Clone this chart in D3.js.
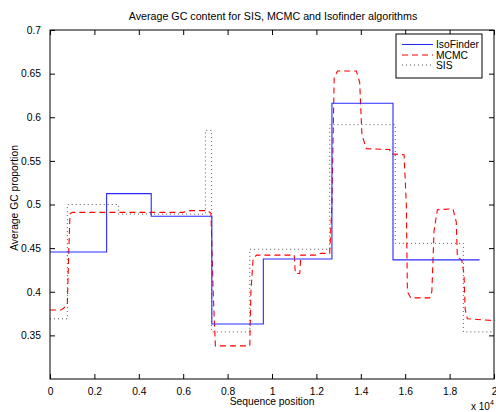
<!DOCTYPE html>
<html><head><meta charset="utf-8">
<script src="https://cdn.jsdelivr.net/npm/d3@7"></script>
<style>body{margin:0;background:#fff}svg{display:block;font-family:"Liberation Sans",Arial,sans-serif}</style>
</head><body><svg id="c" width="496" height="412"></svg>
<script>
// IsoFinder: step edges and segment values
const isoX = [0, 2550, 4560, 7290, 9610, 12700, 15450, 19350];
const isoY = [0.4455, 0.5125, 0.4865, 0.363, 0.4375, 0.616, 0.4365];
// SIS: step edges and segment values
const sisX = [0, 780, 3080, 7000, 7280, 9000, 12600, 15550, 18620, 20000];
const sisY = [0.369, 0.500, 0.489, 0.585, 0.354, 0.4487, 0.5915, 0.4555, 0.354];
// MCMC: sampled path
const mcmcX = [0, 500, 650, 780, 850, 900, 1000, 6000, 6250, 7100, 7250, 7350, 7450, 9000, 9050, 9150, 9300, 11000, 11050, 11250, 11300, 12000, 12200, 12600, 12700, 12800, 12950, 13800, 13950, 14050, 14250, 15300, 15350, 15950, 16050, 16100, 16250, 17100, 17200, 17300, 17450, 18150, 18300, 18350, 18550, 18650, 18700, 18800, 20000];
const mcmcY = [0.379, 0.379, 0.382, 0.385, 0.45, 0.489, 0.491, 0.491, 0.493, 0.493, 0.490, 0.40, 0.338, 0.338, 0.40, 0.438, 0.442, 0.442, 0.421, 0.421, 0.442, 0.442, 0.444, 0.444, 0.50, 0.645, 0.653, 0.653, 0.64, 0.58, 0.564, 0.563, 0.558, 0.557, 0.50, 0.40, 0.393, 0.393, 0.40, 0.47, 0.494, 0.495, 0.48, 0.44, 0.436, 0.42, 0.38, 0.369, 0.367];
const xTicks = [0, 2000, 4000, 6000, 8000, 10000, 12000, 14000, 16000, 18000, 20000];
const xTickLabels = ["0", "0.2", "0.4", "0.6", "0.8", "1", "1.2", "1.4", "1.6", "1.8", "2"];
const yTicks = [0.35, 0.4, 0.45, 0.5, 0.55, 0.6, 0.65, 0.7];
const seriesNames = ["IsoFinder", "MCMC", "SIS"];

const svg = d3.select("#c");
const L = 50, R = 494, T = 30, B = 379;
const x = d3.scaleLinear().domain([0, 20000]).range([L, R]);
const y = d3.scaleLinear().domain([0.3, 0.7]).range([B, T]);

const stepPts = (xs, ys) => xs.map((v, i) => [v, ys[Math.min(i, ys.length - 1)]]);
const lineStep = d3.line().x(d => x(d[0])).y(d => y(d[1])).curve(d3.curveStepAfter);
const lineLin = d3.line().x(d => x(d[0])).y(d => y(d[1]));

const g = svg.append("g");
// SIS
g.append("path").attr("d", lineStep(stepPts(sisX, sisY))).attr("fill", "none")
  .attr("stroke", "#555").attr("stroke-width", 1).attr("stroke-dasharray", "1,3");
// MCMC
g.append("path").attr("d", lineLin(mcmcX.map((v, i) => [v, mcmcY[i]]))).attr("fill", "none")
  .attr("stroke", "#ff0000").attr("stroke-width", 1.1).attr("stroke-dasharray", "6,4");
// IsoFinder
g.append("path").attr("d", lineStep(stepPts(isoX, isoY))).attr("fill", "none")
  .attr("stroke", "#2a2aff").attr("stroke-width", 1.1);

// frame
svg.append("rect").attr("x", L).attr("y", T).attr("width", R - L).attr("height", B - T)
  .attr("fill", "none").attr("stroke", "#000").attr("stroke-width", 1);

// axes
const xb = svg.append("g").attr("transform", `translate(0,${B})`)
  .call(d3.axisBottom(x).tickValues(xTicks).tickFormat((d, i) => xTickLabels[i]).tickSizeInner(-5).tickSizeOuter(0).tickPadding(9));
const xt = svg.append("g").attr("transform", `translate(0,${T})`)
  .call(d3.axisTop(x).tickValues(xTicks).tickFormat("").tickSizeInner(-5).tickSizeOuter(0));
const yl = svg.append("g").attr("transform", `translate(${L},0)`)
  .call(d3.axisLeft(y).tickValues(yTicks).tickFormat(d => String(+d.toFixed(2))).tickSizeInner(-5).tickSizeOuter(0).tickPadding(9));
const yr = svg.append("g").attr("transform", `translate(${R},0)`)
  .call(d3.axisRight(y).tickValues(yTicks).tickFormat("").tickSizeInner(-5).tickSizeOuter(0));
[xb, xt, yl, yr].forEach(a => {
  a.select(".domain").remove();
  a.selectAll("line").attr("stroke", "#000");
  a.selectAll("text").attr("font-size", 10.3).attr("fill", "#000").attr("font-family", "Liberation Sans, Arial, sans-serif");
});

// labels
svg.append("text").attr("x", 273).attr("y", 20).attr("text-anchor", "middle").attr("font-size", 10.7)
  .text("Average GC content for SIS, MCMC and Isofinder algorithms");
svg.append("text").attr("x", 272).attr("y", 405).attr("text-anchor", "middle").attr("font-size", 10.3)
  .text("Sequence position");
svg.append("text").attr("transform", "translate(18,198) rotate(-90)").attr("text-anchor", "middle").attr("font-size", 10.3)
  .text("Average GC proportion");
const ex = svg.append("text").attr("x", 471).attr("y", 410).attr("font-size", 10).text("x 10");
ex.append("tspan").attr("dy", -5).attr("font-size", 7).text("4");

// legend
const lg = svg.append("g");
lg.append("rect").attr("x", 396).attr("y", 34).attr("width", 86).attr("height", 44)
  .attr("fill", "#fff").attr("stroke", "#000").attr("stroke-width", 1);
const styles = [
  {stroke: "#2a2aff", dash: null, w: 1.1},
  {stroke: "#ff0000", dash: "6,4", w: 1.1},
  {stroke: "#555", dash: "1,3", w: 1}
];
const ly = [44.5, 55, 65];
seriesNames.forEach((n, i) => {
  lg.append("line").attr("x1", 402).attr("x2", 433).attr("y1", ly[i]).attr("y2", ly[i])
    .attr("stroke", styles[i].stroke).attr("stroke-width", styles[i].w).attr("stroke-dasharray", styles[i].dash);
  lg.append("text").attr("x", 436).attr("y", ly[i] + 3.6).attr("font-size", 10.3).text(n);
});
</script></body></html>
